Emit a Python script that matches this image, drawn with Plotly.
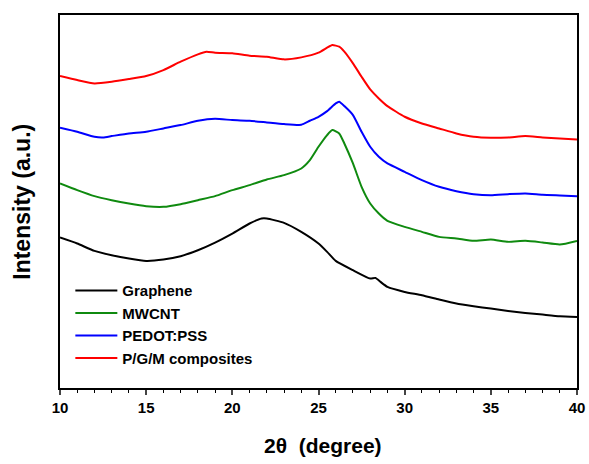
import plotly.graph_objects as go

# 2theta positions (degree)
x_red = [10, 11, 12, 13, 14, 15, 16, 17, 18, 18.5, 19, 20, 21, 22, 23, 24, 25, 25.5, 25.8, 26.2, 26.5, 27, 27.5, 28, 28.5, 29, 30, 31, 32, 33, 34, 35, 36, 37, 38, 39, 40]
# P/G/M composites (a.u.)
y_red = [935, 923, 913, 918, 926, 935, 953, 978, 1000, 1008, 1005, 1003, 996, 993, 985, 991, 1005, 1020, 1028, 1023, 1008, 973, 933, 895, 868, 845, 813, 793, 778, 763, 753, 750, 751, 755, 751, 748, 745]

x_blue = [10, 11, 12, 12.5, 13, 14, 15, 16, 17, 18, 19, 20, 21, 22, 23, 24, 24.5, 25, 25.5, 26, 26.2, 26.5, 27, 27.5, 28, 28.5, 29, 30, 31, 32, 33, 34, 35, 36, 37, 38, 39, 40]
# PEDOT:PSS
y_blue = [780, 768, 753, 751, 755, 763, 768, 778, 788, 801, 807, 803, 801, 796, 791, 789, 801, 813, 830, 853, 858, 845, 818, 768, 723, 693, 673, 648, 623, 603, 590, 581, 578, 581, 583, 579, 577, 575]

x_green = [10, 11, 12, 13, 14, 15, 16, 17, 18, 19, 20, 21, 22, 23, 24, 24.5, 25, 25.5, 25.8, 26.2, 26.5, 27, 27.5, 28, 28.5, 29, 30, 31, 32, 33, 34, 35, 36, 37, 38, 39, 40]
# MWCNT
y_green = [613, 593, 575, 563, 553, 545, 543, 551, 563, 575, 593, 608, 625, 638, 658, 683, 723, 758, 773, 763, 733, 673, 603, 553, 523, 501, 483, 468, 453, 448, 441, 445, 438, 441, 436, 430, 441]

x_black = [10, 11, 12, 13, 14, 15, 16, 17, 18, 19, 20, 21, 21.7, 22, 23, 24, 25, 25.5, 26, 27, 28, 28.3, 28.6, 29, 30, 31, 32, 33, 34, 35, 36, 37, 38, 39, 40]
# Graphene
y_black = [451, 433, 411, 398, 388, 381, 385, 395, 413, 436, 463, 493, 508, 508, 495, 468, 433, 408, 381, 353, 328, 330, 318, 303, 288, 278, 265, 253, 245, 238, 231, 225, 220, 215, 213]

x_ticks = [10, 15, 20, 25, 30, 35, 40]

FONT = "Arial, Liberation Sans, sans-serif"

fig = go.Figure()
series = [
    ("Graphene", x_black, y_black, "#000000"),
    ("MWCNT", x_green, y_green, "#0f8a0f"),
    ("PEDOT:PSS", x_blue, y_blue, "#0000ff"),
    ("P/G/M composites", x_red, y_red, "#ff0000"),
]
for name, xs, ys, col in series:
    fig.add_trace(go.Scatter(x=xs, y=ys, mode="lines", name=name,
                             line=dict(color=col, width=2, shape="spline", smoothing=0.5)))

fig.update_layout(
    width=589, height=464,
    paper_bgcolor="white", plot_bgcolor="white",
    margin=dict(l=60, r=12, t=15, b=76, autoexpand=False),
    font=dict(family=FONT, color="black"),
    showlegend=True,
    legend=dict(x=0.02, y=0.305, xanchor="left", yanchor="top",
                bgcolor="rgba(0,0,0,0)", font=dict(size=15, family=FONT, weight="bold"),
                tracegroupgap=0, itemwidth=42),
    annotations=[
        dict(text="2θ  (degree)", xref="paper", yref="paper", x=0.508, y=-0.155,
             xanchor="center", yanchor="middle", showarrow=False,
             font=dict(size=21, family=FONT, weight="bold")),
        dict(text="Intensity (a.u.)", xref="paper", yref="paper", x=-0.075, y=0.50,
             xanchor="center", yanchor="middle", showarrow=False, textangle=-90,
             font=dict(size=23, family=FONT, weight="bold")),
    ],
)
fig.update_xaxes(range=[10, 40], tickvals=x_ticks, ticks="outside", ticklen=5, tickwidth=1.5,
                 showline=True, linecolor="black", linewidth=2, mirror=True, showgrid=False,
                 zeroline=False, automargin=False,
                 tickfont=dict(size=15, family=FONT, weight="bold"),
                 minor=dict(dtick=1, ticks="outside", ticklen=3, tickwidth=1.2, tickcolor="black"))
fig.update_yaxes(range=[0, 1118], showticklabels=False, ticks="", showline=True, linecolor="black",
                 linewidth=2, mirror=True, showgrid=False, zeroline=False, automargin=False)

fig.write_html("out.html")
